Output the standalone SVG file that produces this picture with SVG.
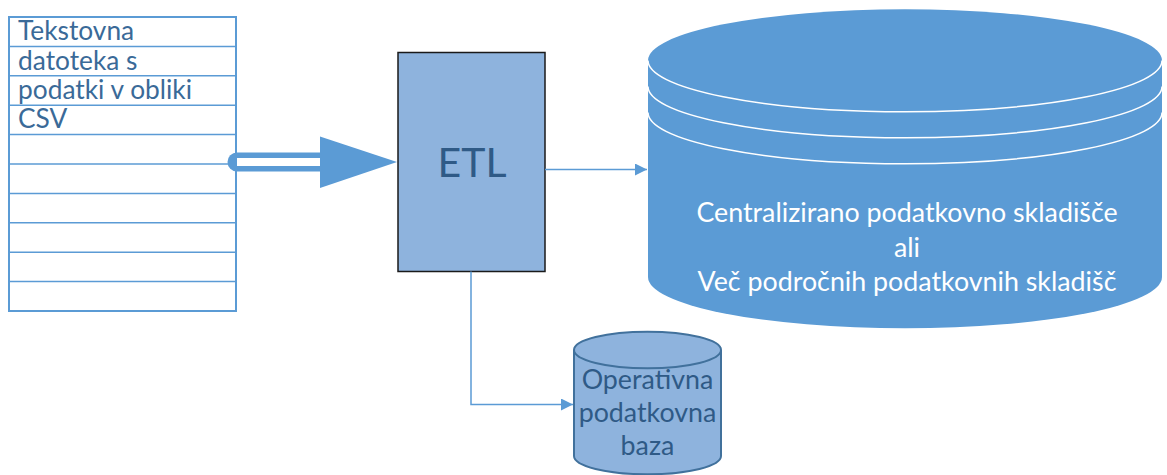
<svg xmlns="http://www.w3.org/2000/svg" width="1167" height="475" viewBox="0 0 1167 475">
  <style>
    .grid { fill: #ffffff; stroke: #5B9BD5; stroke-width: 2; }
    .row { stroke: #5B9BD5; stroke-width: 1.5; }
    .lbl { font-family: Lato, "Open Sans", sans-serif; }
    .tbl { font-size: 26.3px; fill: #3A6A98; }
    .dark { fill: #2F5A86; }
    .white { fill: #ffffff; }
    .conn { fill: none; stroke: #5B9BD5; stroke-width: 1.5; }
  </style>
  <defs>
    <marker id="tri" viewBox="0 0 12 12" refX="12" refY="6" markerWidth="12" markerHeight="12" markerUnits="userSpaceOnUse" orient="auto">
      <path d="M0,0 L12,6 L0,12 Z" fill="#5B9BD5"/>
    </marker>
  </defs>

  <!-- CSV text file drawn as a ruled sheet -->
  <g id="csv-file">
    <rect class="grid" x="9" y="17" width="227" height="294"/>
    <line class="row" x1="9" y1="46.4" x2="236" y2="46.4"/>
    <line class="row" x1="9" y1="75.8" x2="236" y2="75.8"/>
    <line class="row" x1="9" y1="105.2" x2="236" y2="105.2"/>
    <line class="row" x1="9" y1="134.6" x2="236" y2="134.6"/>
    <line class="row" x1="9" y1="164" x2="236" y2="164"/>
    <line class="row" x1="9" y1="193.4" x2="236" y2="193.4"/>
    <line class="row" x1="9" y1="222.8" x2="236" y2="222.8"/>
    <line class="row" x1="9" y1="252.2" x2="236" y2="252.2"/>
    <line class="row" x1="9" y1="281.6" x2="236" y2="281.6"/>
    <text class="lbl tbl" x="18" y="40">Tekstovna</text>
    <text class="lbl tbl" x="18" y="69.5">datoteka s</text>
    <text class="lbl tbl" x="18" y="98.8">podatki v obliki</text>
    <text class="lbl tbl" x="18" y="128.2">CSV</text>
  </g>

  <!-- ETL process box -->
  <g id="etl">
    <rect x="398" y="52.5" width="147" height="219" fill="#8EB3DD" stroke="#1a1a1a" stroke-width="1.5"/>
    <text class="lbl dark" x="472" y="177" font-size="41" text-anchor="middle">ETL</text>
  </g>

  <!-- Central data warehouse -->
  <g id="warehouse">
    <path d="M648,60.5 L648,277 A257,51.2 0 0 0 1162,277 L1162,60.5 A257,51.2 0 0 0 648,60.5 Z" fill="#5B9BD5"/>
    <path d="M648,60.5 A257,51.2 0 0 0 1162,60.5" fill="none" stroke="#ffffff" stroke-width="1.5"/>
    <path d="M648,86.5 A257,51.2 0 0 0 1162,86.5" fill="none" stroke="#ffffff" stroke-width="1.5"/>
    <path d="M648,112.5 A257,51.2 0 0 0 1162,112.5" fill="none" stroke="#ffffff" stroke-width="1.5"/>
    <text class="lbl white" x="907" y="222" font-size="26.8" text-anchor="middle">Centralizirano podatkovno skladišče</text>
    <text class="lbl white" x="907" y="256.5" font-size="26.8" text-anchor="middle">ali</text>
    <text class="lbl white" x="907" y="291" font-size="26.8" text-anchor="middle">Več področnih podatkovnih skladišč</text>
  </g>

  <!-- Operational database -->
  <g id="operational-db">
    <path d="M574,350 L574,456 A73.5,18.3 0 0 0 721,456 L721,350 A73.5,18.3 0 0 0 574,350 Z" fill="#8EB3DD" stroke="#41719C" stroke-width="2"/>
    <path d="M574,350 A73.5,18.3 0 0 0 721,350" fill="none" stroke="#41719C" stroke-width="2"/>
    <text class="lbl dark" x="647.5" y="389" font-size="26.8" text-anchor="middle">Operativna</text>
    <text class="lbl dark" x="647.5" y="422" font-size="26.8" text-anchor="middle">podatkovna</text>
    <text class="lbl dark" x="647.5" y="455" font-size="26.8" text-anchor="middle">baza</text>
  </g>

  <!-- Connectors -->
  <g id="connectors">
    <!-- wide hollow arrow from the file into ETL -->
    <g id="csv-to-etl">
      <line x1="237" y1="162" x2="322" y2="162" stroke="#5B9BD5" stroke-width="19" stroke-linecap="round"/>
      <line x1="237" y1="162" x2="322" y2="162" stroke="#ffffff" stroke-width="8"/>
      <path d="M320,136.5 L397,162 L320,188 Z" fill="#5B9BD5"/>
    </g>
    <path id="etl-to-warehouse" class="conn" d="M545,169.5 L647,169.5" marker-end="url(#tri)"/>
    <path id="etl-to-db" class="conn" d="M471,271.5 L471,404.5 L573,404.5" marker-end="url(#tri)"/>
  </g>
</svg>
